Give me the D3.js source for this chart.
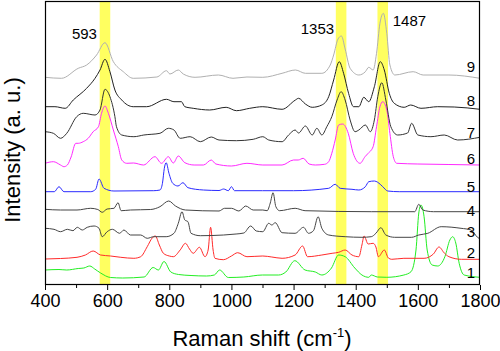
<!DOCTYPE html>
<html><head><meta charset="utf-8">
<script src="https://cdn.jsdelivr.net/npm/d3@7"></script>
<style>body{margin:0;background:#fff}svg{display:block}text{font-family:"Liberation Sans",Arial,sans-serif}</style>
</head><body><svg id="c" width="500" height="351"></svg>
<script>
// ---- data (x = Raman shift cm^-1, y = relative intensity incl. stacking offset) ----
const s1 = [[400,15],[445,15.5],[470,15],[507,16.5],[525,17],[544,19],[560,16],[579,12],[611,7.5],[650,7],[719,8],[748,17.5],[765,15],[783,23.5],[805,13],[830,10.5],[870,9.5],[920,9],[945,10],[962,15],[990,7.5],[1040,8],[1100,10],[1152,10],[1175,13],[1204,24.3],[1237,15],[1270,13],[1291,10],[1322,17],[1345,30],[1366,28.3],[1397,17],[1420,10],[1442,7.7],[1450,10],[1470,8],[1500,7.7],[1555,10],[1578,13.3],[1594,35],[1603,72],[1610,80],[1620,68.3],[1630,35],[1646,20],[1664,19],[1687,28.3],[1703,45],[1712,48.3],[1722,42],[1733,21.7],[1749,10],[1800,7.7]];
const s2 = [[400,26],[450,26.5],[503,27.7],[530,30],[555,34],[579,30],[611,29],[644,27.7],[686,26.7],[708,28.3],[729,38.3],[745,47],[755,49],[768,40],[781,31.7],[800,29],[813,28.3],[835,35],[852,41.7],[865,36],[877,31.7],[897,37.7],[915,28.3],[925,35],[933,57.7],[941,35],[947,26.7],[974,25.3],[1000,29],[1020,32.3],[1050,28.3],[1101,29],[1130,28],[1163,26.7],[1205,30],[1229,39],[1245,28.3],[1291,30],[1324,31.7],[1345,32.7],[1366,35],[1388,30],[1410,28.3],[1420,40],[1427,49],[1440,41],[1456,41.7],[1465,38],[1473,28.3],[1492,35],[1505,27],[1516,25.7],[1555,26.7],[1620,26.7],[1650,31],[1668,38],[1685,32],[1700,28.3],[1740,25.7],[1800,25.7]];
const s3 = [[400,56.7],[429,55.7],[450,53.3],[472,55.7],[490,54.3],[504,57.7],[520,55],[536,57.7],[558,59],[574,56.7],[584,48.3],[600,53.3],[617,55.7],[640,51.7],[654,55],[675,50],[708,50],[729,46.7],[750,48.3],[790,48.3],[815,51.7],[829,61.7],[841,73.3],[850,65],[860,63.3],[870,51.7],[900,49.3],[975,50],[1015,51],[1040,52],[1062,59],[1080,54],[1101,53.3],[1120,61.7],[1130,60],[1141,62.3],[1163,52.3],[1205,51.7],[1232,57.7],[1248,51.7],[1264,54.3],[1279,68.3],[1291,56.7],[1313,50],[1366,48.3],[1420,47.7],[1450,48.3],[1465,51.7],[1481,57.3],[1497,50],[1525,47.7],[1580,47.7],[1603,50],[1632,51.7],[1675,58.3],[1739,56.7],[1771,55],[1792,47.7],[1800,46]];
const s4 = [[400,75.7],[450,75],[503,75],[547,76.7],[570,75.5],[584,72.7],[600,76],[622,76.7],[635,82.3],[645,74.3],[675,75],[740,75.5],[770,78.3],[798,84],[820,79],[852,75],[960,74],[978,76.7],[1000,76.7],[1024,74],[1046,79],[1070,75],[1101,75],[1115,74.3],[1125,82],[1134,92.3],[1143,78.3],[1155,74.3],[1205,76.7],[1237,74.3],[1450,73.3],[1590,73.3],[1603,80.7],[1616,75],[1650,73.3],[1800,73.3]];
const s5 = [[400,93.3],[430,93.3],[445,98.3],[461,93.3],[547,93.3],[563,95.7],[574,106],[590,96.7],[622,94],[750,94.3],[770,95],[778,101.7],[784,116.7],[790,122.3],[799,111.7],[811,101.7],[828,99],[844,102.3],[860,97.3],[910,95],[960,94.5],[975,96],[990,94.3],[1000,98.3],[1010,94.3],[1100,94.3],[1200,94.3],[1313,96.7],[1334,100.7],[1350,96.7],[1388,95.7],[1410,95],[1431,98.3],[1442,103.3],[1460,104],[1471,102.7],[1487,98.3],[1503,94],[1540,93.3],[1800,93.3]];
const s6 = [[400,121.7],[427,123.3],[450,120],[461,118.3],[472,120],[484,128],[499,141.7],[507,141.7],[523,143.3],[539,146.7],[555,153.3],[572,158.3],[582,171.7],[593,179],[604,171.7],[620,155],[636,138.3],[647,125],[663,121.7],[685,122],[717,120],[754,128.3],[775,121.7],[797,128.3],[813,122],[829,129],[850,122.3],[880,120],[910,120],[935,125],[950,121],[1000,119],[1050,121.7],[1101,120],[1163,120],[1200,125],[1215,125],[1231,126.7],[1250,121],[1270,120],[1300,120.7],[1313,123.3],[1323,131.7],[1334,145],[1345,160],[1358,161],[1376,151.7],[1392,131.7],[1414,121.7],[1430,128.3],[1440,131.7],[1456,138.3],[1467,158.3],[1478,178.3],[1487,183.3],[1500,175],[1510,151.7],[1521,128.3],[1532,121.7],[1600,121],[1700,120.5],[1800,120]];
const s7 = [[400,153.3],[427,151.7],[450,146.7],[470,151.7],[502,168.3],[523,171.7],[561,170],[577,175],[593,195.7],[609,188.3],[625,168.3],[630,158.3],[647,150],[686,148.3],[718,150],[770,151.7],[797,156.7],[815,155],[835,146.7],[867,148.3],[900,143.3],[935,148],[960,145],[1016,144.3],[1070,145.7],[1101,148.3],[1120,145],[1163,143.3],[1184,150],[1205,155],[1216,152],[1238,159],[1260,150],[1275,156.7],[1291,150],[1307,158.3],[1323,168.3],[1340,185],[1353,193.3],[1366,185],[1382,165],[1398,153.3],[1410,155],[1431,160],[1447,153.3],[1460,165],[1471,188.3],[1484,202.3],[1497,185],[1513,158.3],[1535,150],[1567,152],[1580,161.7],[1600,150],[1642,148.3],[1685,150],[1728,145],[1800,147.7]];
const s8 = [[400,178.3],[432,178.3],[465,176.7],[491,185],[534,196.7],[561,206.7],[577,215],[593,225.7],[609,213.3],[625,195],[647,185],[684,178.3],[727,178.3],[791,185.7],[815,183.3],[839,183.3],[850,178.3],[877,176.7],[930,175],[983,177.7],[1016,174.3],[1059,176.7],[1101,178.3],[1163,175.7],[1206,185],[1216,186.7],[1238,181],[1260,177.7],[1291,180],[1313,188.3],[1329,205],[1347,223.3],[1361,211.7],[1377,191.7],[1393,178.3],[1410,178.3],[1426,187.7],[1442,183.3],[1460,198.3],[1479,223.3],[1492,215],[1508,191.7],[1524,181.7],[1556,177.7],[1577,180],[1610,176.7],[1664,178.3],[1717,178],[1800,175.7]];
const s9 = [[400,207.7],[453,206.7],[507,216.7],[534,220],[566,230],[593,242.3],[620,223.3],[652,213.3],[684,206.7],[760,208],[791,214.3],[802,211],[829,215],[845,211],[883,207.7],[958,210],[1005,206.7],[1050,208],[1101,207.7],[1163,211.7],[1206,215],[1238,211.7],[1291,211.7],[1318,220],[1329,230],[1343,246],[1354,249],[1366,236],[1382,216.7],[1410,210],[1431,213.3],[1442,217.7],[1456,215],[1467,231.7],[1478,261.7],[1489,271.7],[1500,251.7],[1510,220],[1526,210],[1585,213.3],[1617,210],[1700,210],[1800,206.7]];
const seriesNames = ["1","2","3","4","5","6","7","8","9"];
const seriesColors = ["#22ee22","#ff2a2a","#454545","#454545","#2a2aff","#ff2aff","#333333","#222222","#b0b0b0"];
const bandCenters = [593, 1353, 1487];
const bandLabels = ["593", "1353", "1487"];
const xTicks = [400, 600, 800, 1000, 1200, 1400, 1600, 1800];

// ---- layout ----
const L = 45, R = 480, T = 1, B = 285;
const svg = d3.select("#c");
const x = d3.scaleLinear().domain([400, 1800]).range([L, R]);
const y = d3.scaleLinear().domain([0, 284]).range([B, T]);
const bandHalf = 17;

// highlight bands
svg.append("g").selectAll("rect").data(bandCenters).join("rect")
  .attr("x", d => x(d - bandHalf)).attr("width", d => x(d + bandHalf) - x(d - bandHalf))
  .attr("y", T).attr("height", B - T).attr("fill", "#ffff60");

// spectra
const series = [s1, s2, s3, s4, s5, s6, s7, s8, s9];
const line = d3.line().x(d => x(d[0])).y(d => y(d[1])).curve(d3.curveMonotoneX);
svg.append("g").selectAll("path").data(series).join("path")
  .attr("d", line).attr("fill", "none")
  .attr("stroke", (d, i) => seriesColors[i]).attr("stroke-width", 1);

// frame
svg.append("rect").attr("x", L + 0.5).attr("y", T + 0.5).attr("width", R - L - 1).attr("height", B - T - 1)
  .attr("fill", "none").attr("stroke", "#000").attr("stroke-width", 1.2);

// x axis
const xAxis = d3.axisBottom(x).tickValues(xTicks).tickSize(5).tickPadding(4).tickFormat(d3.format("d"));
const gx = svg.append("g").attr("transform", `translate(0,${B})`).call(xAxis);
gx.select(".domain").remove();
gx.selectAll("text").attr("font-size", 18).attr("fill", "#000").style("font-family", '"Liberation Sans",Arial,sans-serif');
gx.selectAll("line").attr("stroke", "#000");
const xMinor = d3.axisBottom(x).tickValues(d3.range(500, 1800, 200)).tickSize(3).tickFormat("");
const gm = svg.append("g").attr("transform", `translate(0,${B})`).call(xMinor);
gm.select(".domain").remove();
gm.selectAll("line").attr("stroke", "#000");

// axis titles
const xt = svg.append("text").attr("x", 262).attr("y", 346).attr("text-anchor", "middle").attr("font-size", 22);
xt.append("tspan").text("Raman shift (cm");
xt.append("tspan").attr("font-size", 13).attr("dy", -9).text("-1");
xt.append("tspan").attr("dy", 9).text(")");
svg.append("text").attr("transform", "translate(20,150) rotate(-90)").attr("text-anchor", "middle")
  .attr("font-size", 22).text("Intensity (a. u.)");

// band labels
const bandLabelPos = [{dx: -8, y: 39, a: "end"}, {dx: -7, y: 34, a: "end"}, {dx: 10, y: 26, a: "start"}];
svg.append("g").selectAll("text").data(bandCenters).join("text")
  .attr("x", (d, i) => x(d) + bandLabelPos[i].dx).attr("y", (d, i) => bandLabelPos[i].y)
  .attr("text-anchor", (d, i) => bandLabelPos[i].a).attr("font-size", 15).text((d, i) => bandLabels[i]);

// series numbers
const numY = [272, 252, 231, 210, 186, 158, 132, 100, 66];
svg.append("g").selectAll("text").data(seriesNames).join("text")
  .attr("x", 471).attr("y", (d, i) => numY[i] + 5.5).attr("text-anchor", "middle")
  .attr("font-size", 15).text(d => d);
</script></body></html>
